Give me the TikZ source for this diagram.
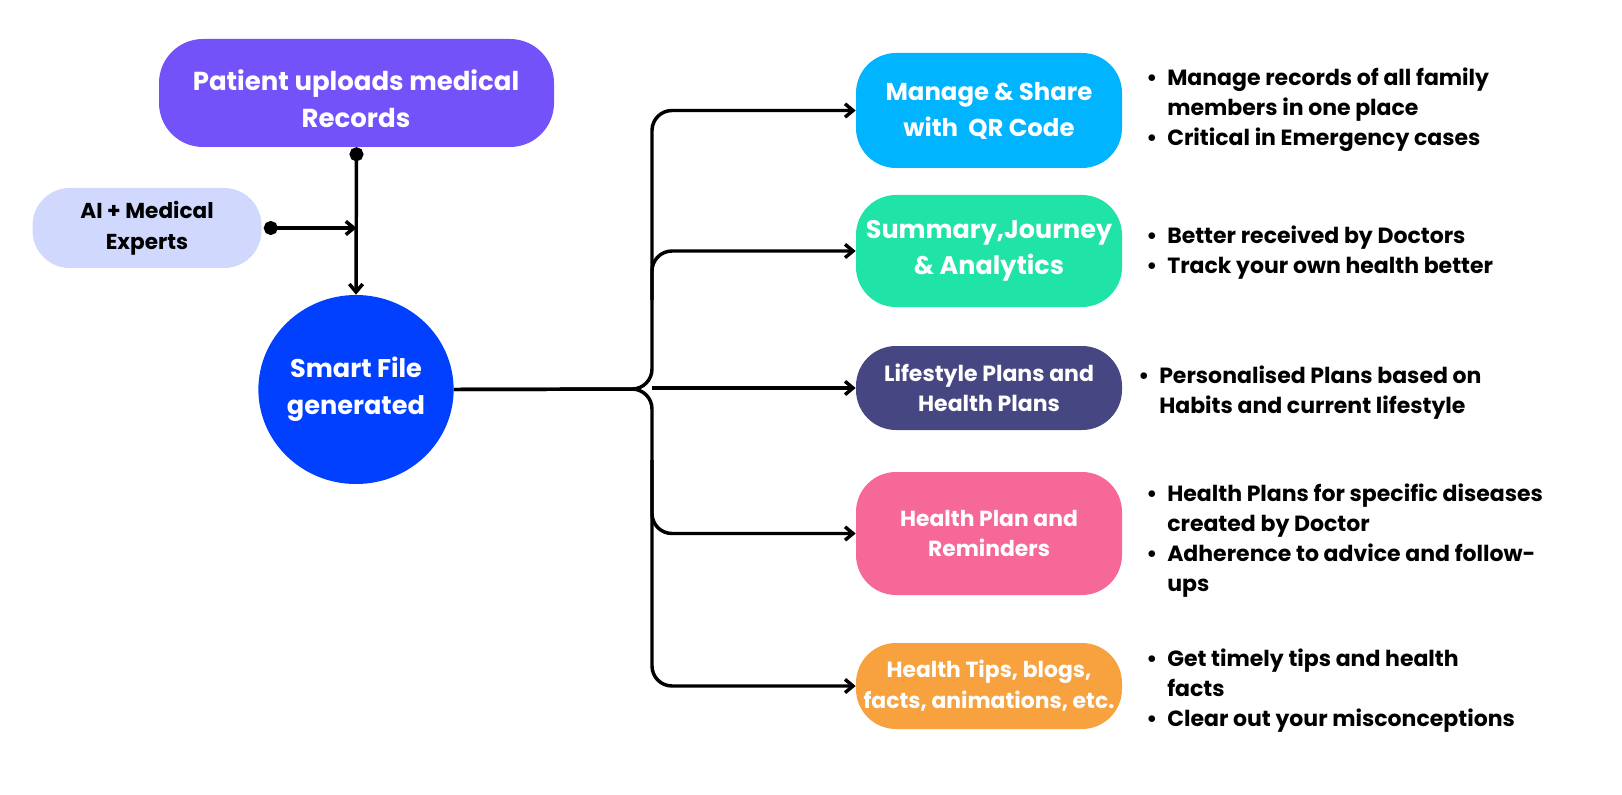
\documentclass[tikz,border=0pt]{standalone}
\usepackage{fontspec}
\setmainfont{Poppins}
\usetikzlibrary{arrows.meta,shapes.geometric,calc}
\definecolor{cpat}{RGB}{116,82,250}
\definecolor{cai}{RGB}{208,216,254}
\definecolor{ccirc}{RGB}{2,64,255}
\definecolor{cb1}{RGB}{0,180,255}
\definecolor{cb2}{RGB}{32,227,168}
\definecolor{cb3}{RGB}{70,70,130}
\definecolor{cb4}{RGB}{246,104,152}
\definecolor{cb5}{RGB}{247,162,62}
\newcommand\bul{\makebox[15.75pt][l]{•}}
\begin{document}
\begin{tikzpicture}[x=0.75pt,y=-0.75pt,
  pill/.style={draw=none,rounded corners=30pt,minimum width=199.5pt,inner sep=0pt,
     text=white,align=center},
  wtext/.style={text=white,align=center,inner sep=0pt},
  conn/.style={line width=2.6pt,rounded corners=15pt},
  tip/.style={-{Straight Barb[length=6pt,width=10pt]}},
  dottip/.style={{Circle[length=10.5pt,width=10.5pt]}-{Straight Barb[length=6pt,width=10pt]}},
  bullets/.style={font=\bfseries\fontsize{16.5}{22.5}\selectfont,inner sep=0pt,anchor=base west,align=left}]
\useasboundingbox (0,0) rectangle (1622,795);
% left column
\node[fill=cpat,rounded corners=33pt,minimum width=296.25pt,minimum height=81pt] (pat) at (356.5,93) {};
\node[wtext,font=\bfseries\fontsize{19.5}{27.75}\selectfont] (pattext) at (356,98.5) {Patient uploads medical\\Records};
\node[fill=cai,rounded corners=28pt,minimum width=171.75pt,minimum height=60pt,
      font=\bfseries\fontsize{16.2}{23}\selectfont,align=center] (ai) at (147,228) {AI + Medical\\Experts};
\node[ellipse,fill=ccirc,minimum width=139.5pt,minimum height=141.75pt,inner sep=0pt,
      text=white,align=center,font=\bfseries\fontsize{19.2}{27.75}\selectfont] (circ) at (356,389.5) {Smart File\\generated};
\draw[line width=2.6pt,dottip] (pat.south) -- (circ.north);
\draw[line width=2.6pt,dottip] ([xshift=1.5pt]ai.east) -- (ai.east -| pat.south);
% right boxes
\node[pill,fill=cb1,minimum height=86.25pt,font=\bfseries\fontsize{18.3}{27}\selectfont] (b1) at (989,110.5) {Manage \& Share\\with\ \ QR Code};
\node[pill,fill=cb2,minimum height=84pt,font=\bfseries\fontsize{19.1}{27}\selectfont] (b2) at (989,251) {Summary,Journey\\\& Analytics};
\node[pill,fill=cb3,minimum height=63pt,font=\bfseries\fontsize{16.5}{22.5}\selectfont] (b3) at (989,388) {Lifestyle Plans and\\Health Plans};
\node[pill,fill=cb4,minimum height=92.25pt,font=\bfseries\fontsize{16.4}{22.5}\selectfont] (b4) at (989,533.5) {Health Plan and\\Reminders};
\node[pill,fill=cb5,minimum height=64.5pt,font=\bfseries\fontsize{16.4}{23.25}\selectfont] (b5) at (989,686) {Health Tips, blogs,\\facts, animations, etc.};
% connectors
\coordinate (trunk) at (652,389);
\coordinate (t2) at (652,300);
\coordinate (t4) at (652,460);
\draw[conn,tip] (circ.east) -- (trunk) -- (trunk |- b1.west) -- (b1.west);
\draw[conn,tip] (circ.east) -- (trunk) -- (trunk |- b5.west) -- (b5.west);
\draw[conn,tip] (t2) -- (t2 |- b2.west) -- (b2.west);
\draw[conn,tip] (t4) -- (t4 |- b4.west) -- (b4.west);
\draw[conn,tip] (b3.west -| trunk) -- (b3.west);
% bullet lists
\node[bullets] (l1) at (1146,86) {\begin{tabular}[t]{@{}l@{}l@{}}\bul & Manage records of all family\\ & members in one place\\ \bul & Critical in Emergency cases\end{tabular}};
\node[bullets] (l2) at (1146,244) {\begin{tabular}[t]{@{}l@{}l@{}}\bul & Better received by Doctors\\ \bul & Track your own health better\end{tabular}};
\node[bullets] (l3) at (1138,383) {\begin{tabular}[t]{@{}l@{}l@{}}\bul & Personalised Plans based on\\ & Habits and current lifestyle\end{tabular}};
\node[bullets] (l4) at (1146,501) {\begin{tabular}[t]{@{}l@{}l@{}}\bul & Health Plans for specific diseases\\ & created by Doctor\\ \bul & Adherence to advice and follow-\\ & ups\end{tabular}};
\node[bullets] (l5) at (1146,666) {\begin{tabular}[t]{@{}l@{}l@{}}\bul & Get timely tips and health\\ & facts\\ \bul & Clear out your misconceptions\end{tabular}};
\end{tikzpicture}
\end{document}
